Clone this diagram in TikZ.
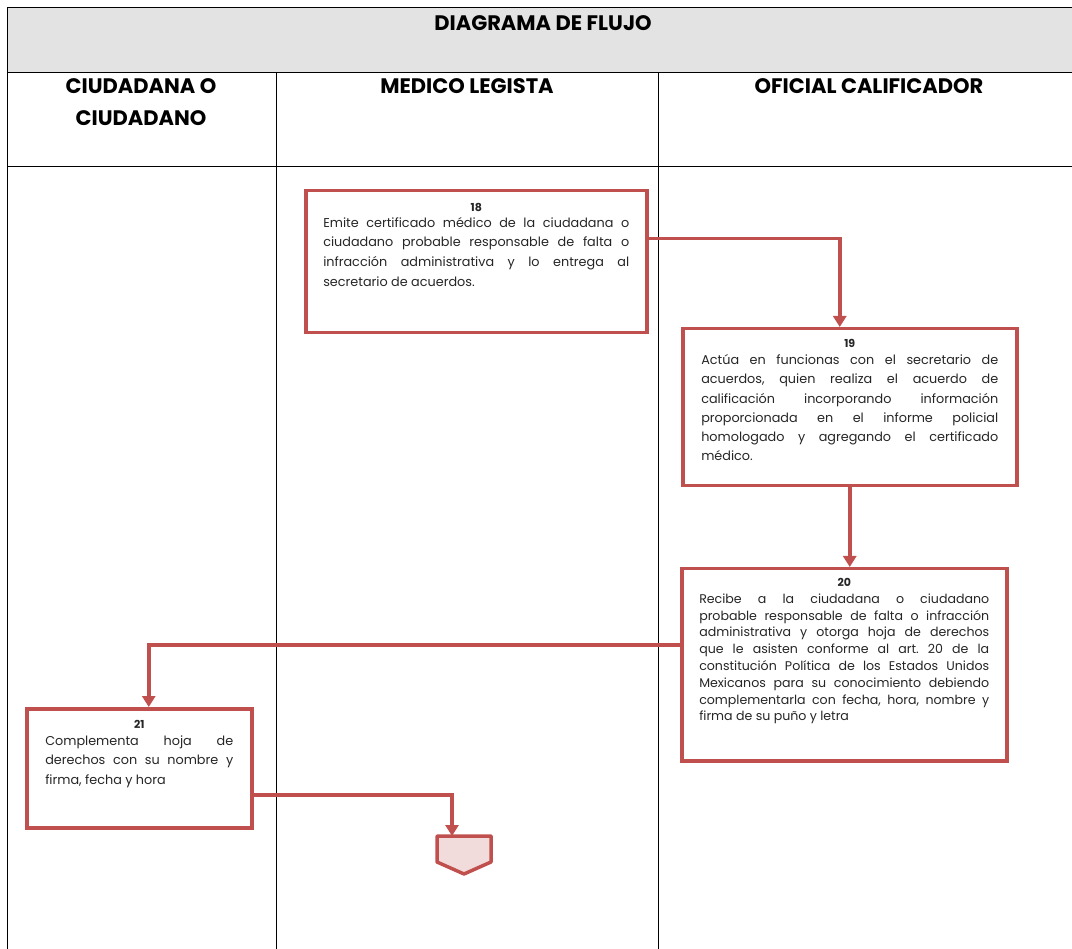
\documentclass[tikz,border=0pt]{standalone}
\usepackage{fontspec}
\setmainfont{Poppins}
\usetikzlibrary{arrows.meta}
\definecolor{boxred}{HTML}{C0504D}
\definecolor{termfill}{HTML}{F2DCDB}
\definecolor{headgray}{HTML}{E3E3E3}
\newcommand{\nohy}{\frenchspacing\hyphenpenalty=10000\exhyphenpenalty=10000\tolerance=9999\emergencystretch=20pt\hbadness=10000}
\tikzset{
  x=1pt,y=-1pt,
  grid/.style={draw=black,line width=0.8pt},
  box/.style={draw=boxred,line width=3.5pt,fill=white,rectangle,inner sep=0pt},
  txt/.style={inner sep=0pt,anchor=north,text=black!85,align=justify,execute at begin node=\nohy},
  conn/.style={draw=boxred,line width=3.5pt,-{Triangle[width=13pt,length=11pt]}},
  head/.style={font=\fontsize{21}{32}\selectfont\bfseries,align=center,inner sep=0pt}
}
\newcommand{\numb}[1]{\centerline{\fontsize{11}{12}\selectfont\bfseries #1}}
\begin{document}
\begin{tikzpicture}
\useasboundingbox (0,0) rectangle (1072,949);
% table
\fill[headgray] (7,7) rectangle (1072,72);
\draw[grid] (1072,7) -- (7,7) -- (7,949);
\draw[grid] (7,72) -- (1072,72);
\draw[grid] (7,166) -- (1072,166);
\draw[grid] (276,72) -- (276,949);
\draw[grid] (658,72) -- (658,949);
\node[head] (title) at (543,23) {DIAGRAMA DE FLUJO};
\node[head] (h1) at (141,102) {CIUDADANA O\\CIUDADANO};
\node[head] (h2) at (467,86) {MEDICO LEGISTA};
\node[head] (h3) at (869,86) {OFICIAL CALIFICADOR};
% boxes
\node[box,minimum width=341pt,minimum height=142pt,anchor=north west] (b18) at (304,189) {};
\node[txt,text width=306pt,font=\fontsize{12.8}{19.8}\selectfont] (t18) at ([yshift=-14pt]b18.north)
 {\numb{18}\vspace{-4pt}
 Emite certificado médico de la ciudadana o\linebreak
 ciudadano probable responsable de falta o\linebreak
 infracción administrativa y lo entrega al\linebreak
 secretario de acuerdos.};
\node[box,minimum width=334pt,minimum height=157pt,anchor=north west] (b19) at (681,327) {};
\node[txt,text width=297pt,font=\fontsize{12.8}{19.2}\selectfont] (t19) at ([yshift=-12pt]b19.north)
 {\numb{19}\vspace{-2pt}
 Actúa en funcionas con el secretario de\linebreak
 acuerdos, quien realiza el acuerdo de\linebreak
 calificación incorporando información\linebreak
 proporcionada en el informe policial\linebreak
 homologado y agregando el certificado\linebreak
 médico.};
\node[box,minimum width=325pt,minimum height=192pt,anchor=north west] (b20) at (680,567) {};
\node[txt,text width=290pt,font=\fontsize{12.6}{16.8}\selectfont] (t20) at ([yshift=-11pt]b20.north)
 {\numb{20}\vspace{0pt}
 Recibe a la ciudadana o ciudadano\linebreak
 probable responsable de falta o infracción\linebreak
 administrativa y otorga hoja de derechos\linebreak
 que le asisten conforme al art. 20 de la\linebreak
 constitución Política de los Estados Unidos\linebreak
 Mexicanos para su conocimiento debiendo\linebreak
 complementarla con fecha, hora, nombre y\linebreak
 firma de su puño y letra};
\node[box,minimum width=225pt,minimum height=119pt,anchor=north west] (b21) at (25,707) {};
\node[txt,text width=188pt,font=\fontsize{12.8}{19.4}\selectfont] (t21) at ([yshift=-13pt]b21.north)
 {\numb{21}\vspace{-2.5pt}
 Complementa hoja de\linebreak
 derechos con su nombre y\linebreak
 firma, fecha y hora};
% off-page connector
\draw[draw=boxred,fill=termfill,line width=3.5pt,line join=round]
 (437,836) -- (491,836) -- (491,862) -- (464,874) -- (437,862) -- cycle;
\coordinate (term) at (452,836);
% connectors
\draw[conn] ([yshift=23pt]b18.east) -| ([xshift=-10pt]b19.north);
\draw[conn] (b19.south) -- (b19.south |- b20.north);
\draw[conn] ([yshift=20pt]b20.west) -| ([xshift=9.5pt]b21.north);
\draw[conn] ([yshift=-26.5pt]b21.east) -| (term);
\end{tikzpicture}
\end{document}
